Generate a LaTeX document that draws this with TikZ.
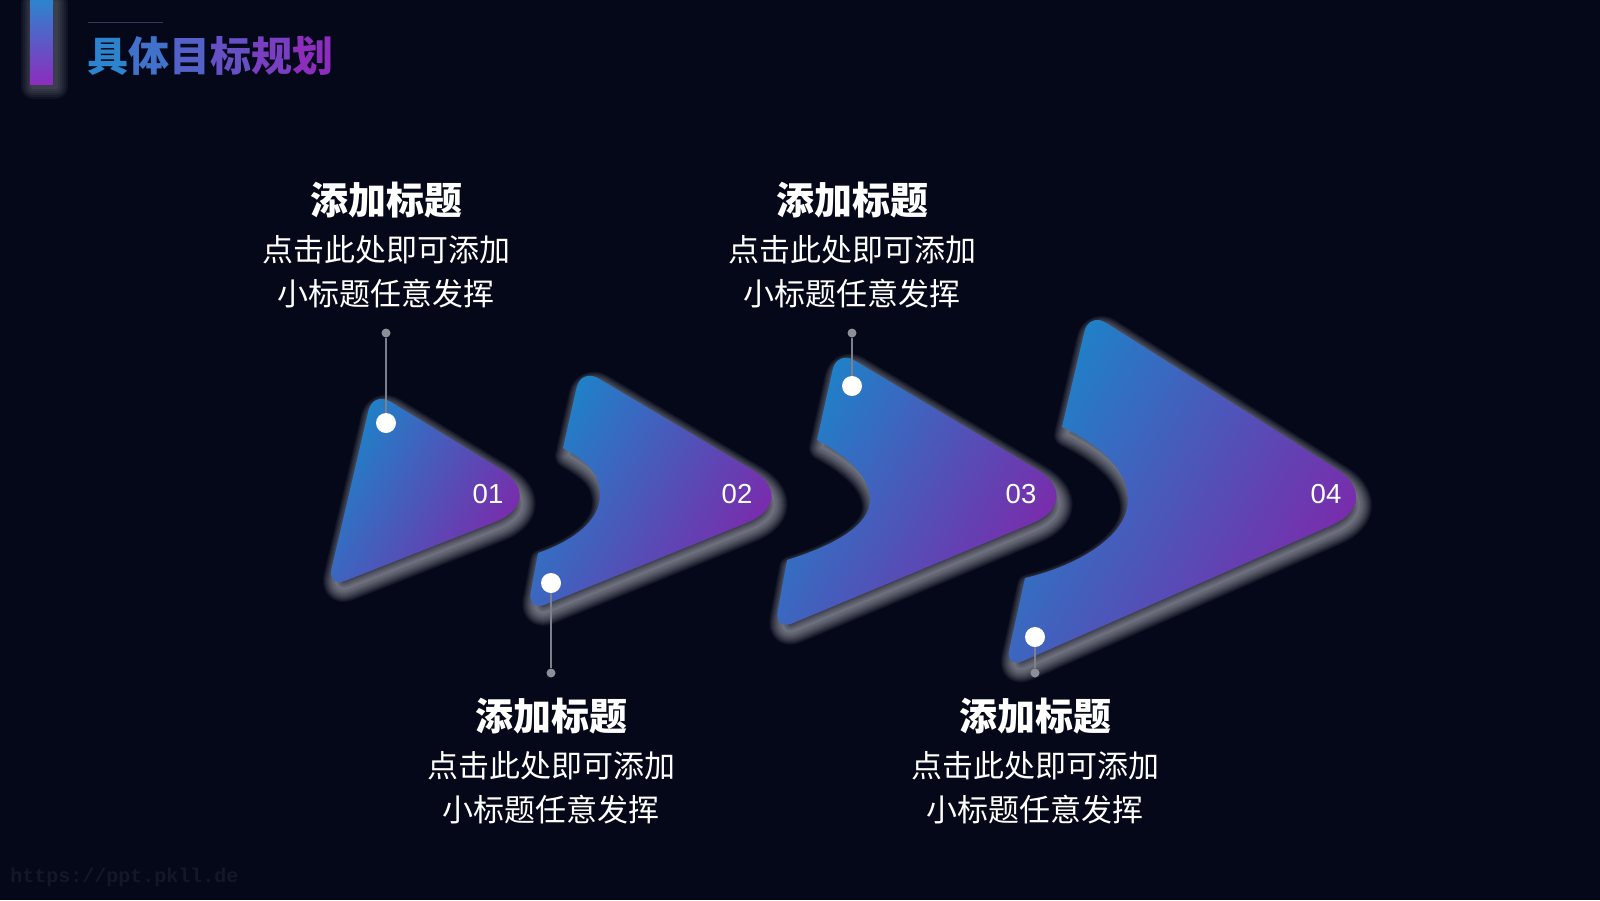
\documentclass[tikz,border=0pt]{standalone}
\usepackage{fontspec}
\usetikzlibrary{calc}
\newfontfamily\cjk{Noto Sans CJK SC}
\newfontfamily\arial{Liberation Sans}
\newfontfamily\mono{Liberation Mono}
\definecolor{bg}{RGB}{5,8,24}
\definecolor{sblue}{RGB}{30,130,200}
\definecolor{spurple}{RGB}{128,38,170}
\definecolor{glowc}{RGB}{215,215,225}
\definecolor{lineg}{RGB}{125,128,140}
\definecolor{dotg}{RGB}{140,142,152}
\definecolor{tblue}{RGB}{45,132,206}
\definecolor{tpurple}{RGB}{140,45,190}
\definecolor{wm}{RGB}{20,23,40}
\definecolor{rulec}{RGB}{50,56,86}
\newcommand\rc[4]{-- ($(#2)!#4!(#1)$) .. controls ($(#2)!0.45*#4!(#1)$) and ($(#2)!0.45*#4!(#3)$) .. ($(#2)!#4!(#3)$)}
\tikzset{
  arrowfill/.style={top color=sblue, bottom color=spurple, shading angle=60},
  glowline/.style={draw=glowc, opacity=0.055, line join=round},
  gdot/.style={circle, fill=dotg, inner sep=0pt, minimum size=4.5pt},
  wdot/.style={circle, fill=white, inner sep=0pt, minimum size=10pt},
  conn/.style={draw=lineg, line width=0.6pt},
  headtxt/.style={anchor=base, inner sep=0pt, text=white, font=\cjk\bfseries\fontsize{19}{22}\selectfont},
  bodytxt/.style={anchor=base, inner sep=0pt, text=white, font=\cjk\fontsize{15.5}{18}\selectfont},
  numtxt/.style={anchor=base, inner sep=0pt, text=white, font=\arial\fontsize{13.75}{16}\selectfont},
}
\begin{document}
\begin{tikzpicture}[x=0.5pt, y=-0.5pt]
\fill[bg] (0,0) rectangle (1600,900);
\useasboundingbox (0,0) rectangle (1600,900);
% vertices
\coordinate (a1tl) at (373,391); \coordinate (a1tip) at (551,500); \coordinate (a1bl) at (327,588); \coordinate (a1m) at (350,490);
\coordinate (a2tl) at (581,368); \coordinate (a2tip) at (803,500); \coordinate (a2bl) at (527,612);
\coordinate (a2nt) at (563,448); \coordinate (a2nd) at (600,495); \coordinate (a2nb) at (538,553);
\coordinate (a3tl) at (837,350); \coordinate (a3tip) at (1088,500); \coordinate (a3bl) at (774,631);
\coordinate (a3nt) at (817,440); \coordinate (a3nd) at (870,500); \coordinate (a3nb) at (787,560);
\coordinate (a4tl) at (1089,312); \coordinate (a4tip) at (1387,501); \coordinate (a4bl) at (1005,669);
\coordinate (a4nt) at (1062,427); \coordinate (a4nd) at (1128,500); \coordinate (a4nb) at (1025,578);
\def\shapeA{(a1m) \rc{a1m}{a1tl}{a1tip}{10pt} \rc{a1tl}{a1tip}{a1bl}{30pt} \rc{a1tip}{a1bl}{a1tl}{10pt} -- cycle}
\def\shapeB{(a2nt) \rc{a2nt}{a2tl}{a2tip}{10pt} \rc{a2tl}{a2tip}{a2bl}{30pt} \rc{a2tip}{a2bl}{a2nb}{10pt} -- (a2nb) .. controls (575,540) and (600,520) .. (a2nd) .. controls (600,470) and (583,460) .. (a2nt) -- cycle}
\def\shapeC{(a3nt) \rc{a3nt}{a3tl}{a3tip}{10pt} \rc{a3tl}{a3tip}{a3bl}{30pt} \rc{a3tip}{a3bl}{a3nb}{10pt} -- (a3nb) .. controls (835,545) and (870,525) .. (a3nd) .. controls (870,475) and (845,455) .. (a3nt) -- cycle}
\def\shapeD{(a4nt) \rc{a4nt}{a4tl}{a4tip}{10pt} \rc{a4tl}{a4tip}{a4bl}{30pt} \rc{a4tip}{a4bl}{a4nb}{10pt} -- (a4nb) .. controls (1080,565) and (1128,535) .. (a4nd) .. controls (1128,470) and (1100,445) .. (a4nt) -- cycle}
% glows
\begin{scope}[transform canvas={shift={(2pt,-4pt)}}]
  \foreach \w in {2,3,...,12}{
    \draw[glowline, line width=\w pt] \shapeA;
    \draw[glowline, line width=\w pt] \shapeB;
    \draw[glowline, line width=\w pt] \shapeC;
    \draw[glowline, line width=\w pt] \shapeD;
  }
  \fill[glowc, opacity=0.1] \shapeA;
  \fill[glowc, opacity=0.1] \shapeB;
  \fill[glowc, opacity=0.1] \shapeC;
  \fill[glowc, opacity=0.1] \shapeD;
\end{scope}
% shapes
\shade[arrowfill] \shapeA;
\shade[arrowfill] \shapeB;
\shade[arrowfill] \shapeC;
\shade[arrowfill] \shapeD;
% numbers
\node[numtxt] (n1) at (488,503) {01};
\node[numtxt] (n2) at (737,503) {02};
\node[numtxt] (n3) at (1021,503) {03};
\node[numtxt] (n4) at (1326,503) {04};
% markers
\node[gdot] (g1) at (386,333) {};
\node[wdot] (w1) at (386,423) {};
\node[gdot] (g2) at (551,673) {};
\node[wdot] (w2) at (551,583) {};
\node[gdot] (g3) at (852,333) {};
\node[wdot] (w3) at (852,386) {};
\node[gdot] (g4) at (1035,673) {};
\node[wdot] (w4) at (1035,637) {};
\draw[conn] (g1) -- (w1);
\draw[conn] (g2) -- (w2);
\draw[conn] (g3) -- (w3);
\draw[conn] (g4) -- (w4);
% text blocks
\node[headtxt] (h1) at (386,214) {添加标题};
\node[bodytxt] (p1) at (386,261) {点击此处即可添加};
\node[bodytxt] (q1) at (386,305) {小标题任意发挥};
\node[headtxt] (h3) at (852,214) {添加标题};
\node[bodytxt] (p3) at (852,261) {点击此处即可添加};
\node[bodytxt] (q3) at (852,305) {小标题任意发挥};
\node[headtxt] (h2) at (551,730) {添加标题};
\node[bodytxt] (p2) at (551,777) {点击此处即可添加};
\node[bodytxt] (q2) at (551,821) {小标题任意发挥};
\node[headtxt] (h4) at (1035,730) {添加标题};
\node[bodytxt] (p4) at (1035,777) {点击此处即可添加};
\node[bodytxt] (q4) at (1035,821) {小标题任意发挥};
% header
\begin{scope}[shift={(3,3)}]
  \foreach \w in {2,4,...,12}{
    \draw[glowline, opacity=0.05, line width=\w pt] (30,0) rectangle (53,84);
  }
\end{scope}
\shade[top color=tblue, bottom color=tpurple] (30,0) rectangle (53,84);
\draw[rulec, line width=0.5pt] (88,22) -- (163,22);
\node[anchor=base west, inner sep=0pt, font=\cjk\bfseries\fontsize{20.5}{24}\selectfont] (title) at (87,71)
  {\textcolor{tblue}{具}\textcolor{tpurple!20!tblue}{体}\textcolor{tpurple!40!tblue}{目}\textcolor{tpurple!60!tblue}{标}\textcolor{tpurple!80!tblue}{规}\textcolor{tpurple}{划}};
% watermark
\node[anchor=base west, inner sep=0pt, text=wm, font=\mono\bfseries\fontsize{10}{12}\selectfont] (wmk) at (10,882) {https://ppt.pkll.de};
\end{tikzpicture}
\end{document}
